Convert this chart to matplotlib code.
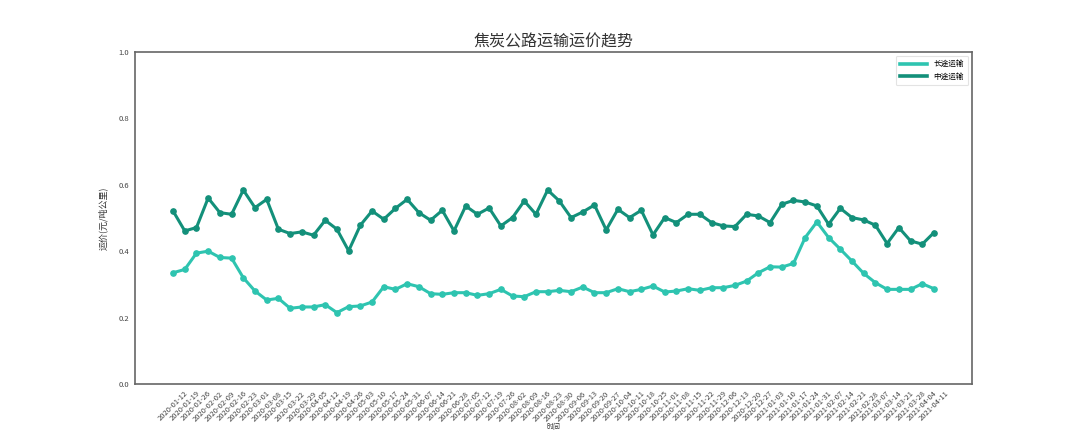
import matplotlib
matplotlib.use("Agg")
import matplotlib.pyplot as plt
from matplotlib.lines import Line2D
import pandas as pd

plt.rcParams['font.family'] = ['Noto Sans CJK SC', 'DejaVu Sans']
plt.rcParams['axes.unicode_minus'] = False

dates = pd.date_range("2020-01-12", "2021-04-11", freq="7D").strftime("%Y-%m-%d").tolist()

long_haul = [0.335, 0.345, 0.394, 0.400, 0.381, 0.379, 0.320, 0.280, 0.253, 0.258,
             0.228, 0.232, 0.232, 0.239, 0.215, 0.233, 0.235, 0.247, 0.293, 0.285,
             0.302, 0.293, 0.272, 0.270, 0.275, 0.275, 0.267, 0.272, 0.285, 0.265,
             0.263, 0.278, 0.278, 0.282, 0.278, 0.292, 0.275, 0.275, 0.287, 0.278,
             0.285, 0.295, 0.277, 0.280, 0.287, 0.282, 0.290, 0.290, 0.297, 0.310,
             0.335, 0.353, 0.352, 0.363, 0.441, 0.488, 0.441, 0.406, 0.370, 0.333,
             0.305, 0.285, 0.285, 0.285, 0.302, 0.287]

mid_haul = [0.521, 0.461, 0.471, 0.560, 0.516, 0.511, 0.584, 0.531, 0.556, 0.466,
            0.453, 0.458, 0.448, 0.493, 0.466, 0.401, 0.478, 0.521, 0.496, 0.529,
            0.556, 0.516, 0.493, 0.523, 0.461, 0.536, 0.511, 0.530, 0.476, 0.501,
            0.551, 0.511, 0.584, 0.551, 0.501, 0.518, 0.539, 0.464, 0.526, 0.501,
            0.523, 0.449, 0.501, 0.486, 0.511, 0.511, 0.486, 0.476, 0.474, 0.511,
            0.506, 0.486, 0.541, 0.553, 0.548, 0.536, 0.481, 0.529, 0.501, 0.494,
            0.478, 0.423, 0.471, 0.431, 0.421, 0.456]

series_names = ["长途运输", "中途运输"]
colors = ["#2ec4b0", "#13907a"]

fig = plt.figure(figsize=(10.8, 4.32), dpi=100)
ax = fig.add_axes([0.125, 0.111, 0.775, 0.769])

x = list(range(len(dates)))
handles = []
for vals, name, c in zip([long_haul, mid_haul], series_names, colors):
    ax.plot(x, vals, color=c, linewidth=2.2, marker='o', markersize=3.8)
    handles.append(Line2D([], [], color=c, linewidth=2.6, label=name))

ax.set_ylim(0, 1.0)
ax.set_yticks([0.0, 0.2, 0.4, 0.6, 0.8, 1.0])
ax.set_yticklabels(["0.0", "0.2", "0.4", "0.6", "0.8", "1.0"], fontsize=5.5, color="#444444")
ax.set_xticks(x)
ax.set_xticklabels(dates, rotation=45, fontsize=5.4, color="#444444")
ax.tick_params(axis='both', length=0, pad=4)

for s in ax.spines.values():
    s.set_color("#666666")
    s.set_linewidth(1.2)

ax.set_title("焦炭公路运输运价趋势", fontsize=11.5, color="#333333", pad=4)
ax.set_ylabel("运价(元/吨公里)", fontsize=6.5, color="#333333", labelpad=8)
ax.set_xlabel("时间", fontsize=5, color="#333333", labelpad=0)

leg = ax.legend(handles=handles, loc="upper right", fontsize=5.5, frameon=True,
                handlelength=3.5, borderpad=0.6, labelspacing=0.6)
leg.get_frame().set_edgecolor("#dddddd")
leg.get_frame().set_linewidth(0.8)

fig.savefig("out.png", dpi=100, facecolor="white")
